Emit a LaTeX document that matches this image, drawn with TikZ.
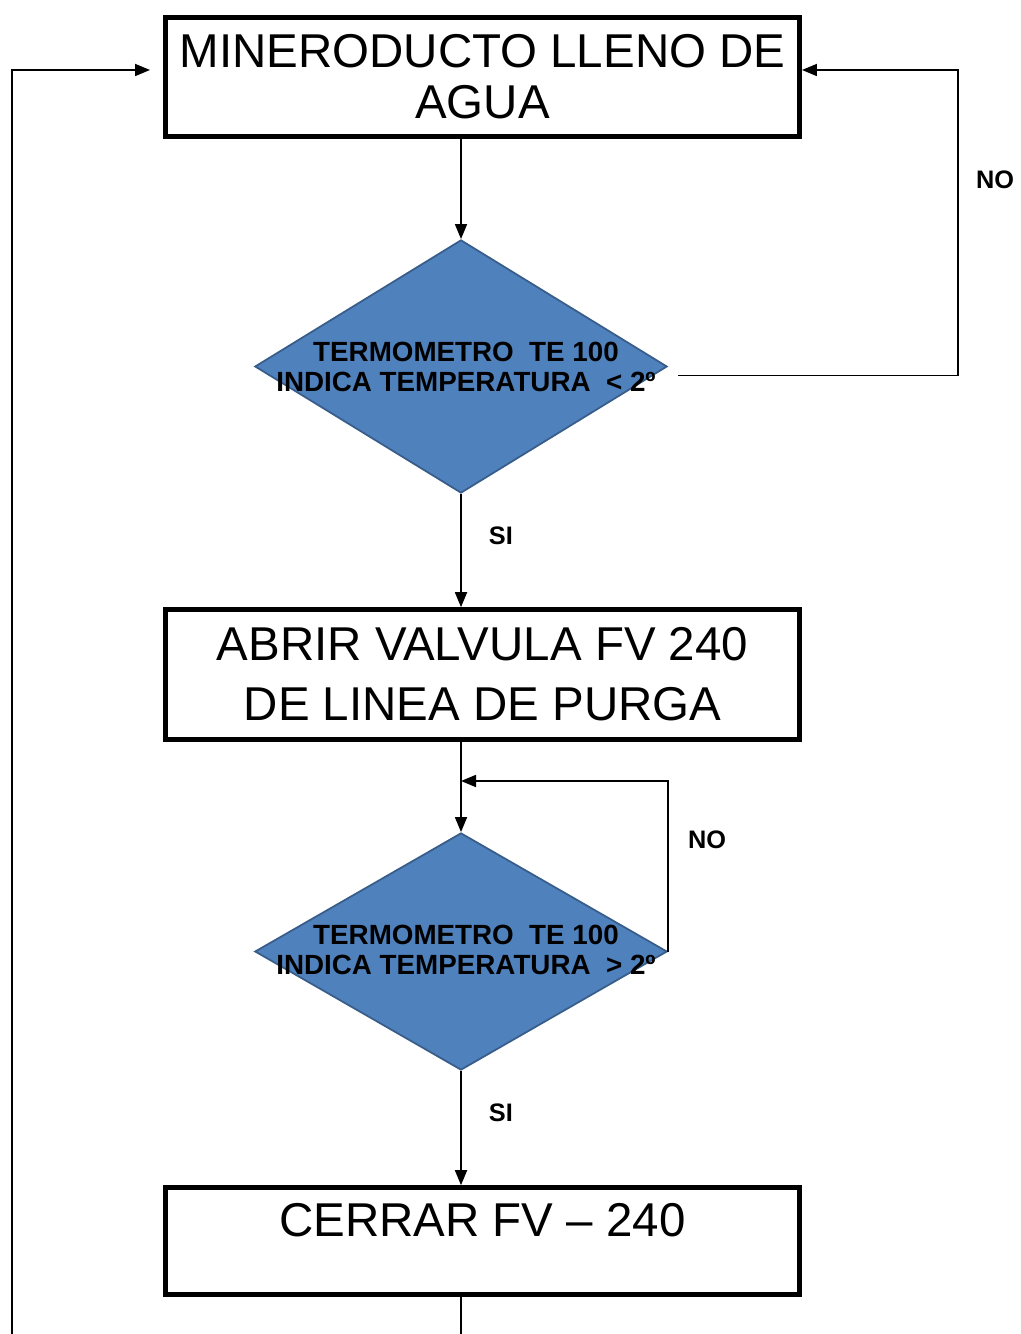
\documentclass[tikz,border=0pt]{standalone}
\usepackage{fontspec}
\setmainfont{Liberation Sans}
\usetikzlibrary{shapes.geometric, arrows.meta, positioning, calc}
\definecolor{diamondblue}{RGB}{79,129,189}
\definecolor{diamondedge}{RGB}{56,93,138}

\begin{document}
\begin{tikzpicture}[x=0.01cm, y=-0.01cm,
  process/.style={rectangle, draw=black, fill=white, line width=1.3pt,
                  minimum width=6.34cm, align=center, inner sep=0pt,
                  font=\fontsize{13.5}{14.5}\selectfont},
  decision/.style={diamond, draw=diamondedge, fill=diamondblue,
                   line width=0.5pt, minimum width=4.12cm, inner sep=0pt},
  dtext/.style={align=center, inner sep=0pt,
                font=\fontsize{7.9}{8.5}\selectfont\bfseries},
  lbl/.style={font=\fontsize{7.2}{8}\selectfont\bfseries, inner sep=0pt},
  arr/.style={-{Triangle[length=1.5mm, width=1.2mm]}, line width=0.5pt},
  link/.style={line width=0.5pt}
]
  \useasboundingbox (0,0) rectangle (1020,1334);

  % Inicio
  \node[process, minimum height=1.19cm] (fill) at (482.5,77)
        {MINERODUCTO LLENO DE\\AGUA};

  % Decision 1
  \node[decision, minimum height=2.53cm] (lowtemp) at (461,366.5) {};
  \node[dtext] (lowtext) at (466,367)
        {TERMOMETRO~ TE 100\\INDICA TEMPERATURA~ < 2º};

  % Abrir valvula
  \node[process, minimum height=1.30cm,
        font=\fontsize{13.5}{17}\selectfont] (purge) at (482.5,674.5)
        {ABRIR VALVULA FV 240\\DE LINEA DE PURGA};

  % Decision 2
  \node[decision, minimum height=2.37cm] (recovtemp) at (461,951.5) {};
  \node[dtext] (recovtext) at (466,950)
        {TERMOMETRO~ TE 100\\INDICA TEMPERATURA~ > 2º};

  % Cerrar valvula
  \node[process, minimum height=1.07cm, text height=9.7pt,
        text depth=12.5pt] (close) at (482.5,1241) {CERRAR FV – 240};

  % Etiquetas NO
  \node[lbl] (no1) at (995,180) {NO};
  \node[lbl] (no2) at (707,840) {NO};

  % Puntos de retorno
  \coordinate (ret1)   at (958,70);
  \coordinate (ret2)   at (461,781);
  \coordinate (ret0)   at (12,1334);
  \coordinate (outlet) at (461,1334);

  % ── Flechas ───────────────────────────────────────────────
  \draw[arr] (fill.south -| lowtemp.north) -- (lowtemp.north);

  % d1 -> abajo (si)
  \draw[arr] (lowtemp.south) --
        node[lbl, right, pos=0.37, xshift=0.27cm]{SI} (purge.north -| lowtemp.south);

  % d1 -> retorno (no)
  \draw[arr] ([xshift=0.1cm, yshift=-0.09cm]lowtemp.east) -| (ret1)
        -- (fill.east |- ret1);

  \draw[arr] (purge.south -| recovtemp.north) -- (recovtemp.north);

  % d2 -> retorno (no)
  \draw[arr] (recovtemp.east) |- (ret2);

  % d2 -> abajo (si)
  \draw[arr] (recovtemp.south) --
        node[lbl, right, pos=0.37, xshift=0.27cm]{SI} (close.north -| recovtemp.south);

  % salida y lazo izquierdo
  \draw[link] (close.south -| recovtemp.south) -- (outlet);
  \draw[arr] (ret0) |- ([xshift=-0.13cm]fill.west |- ret1);

\end{tikzpicture}
\end{document}
